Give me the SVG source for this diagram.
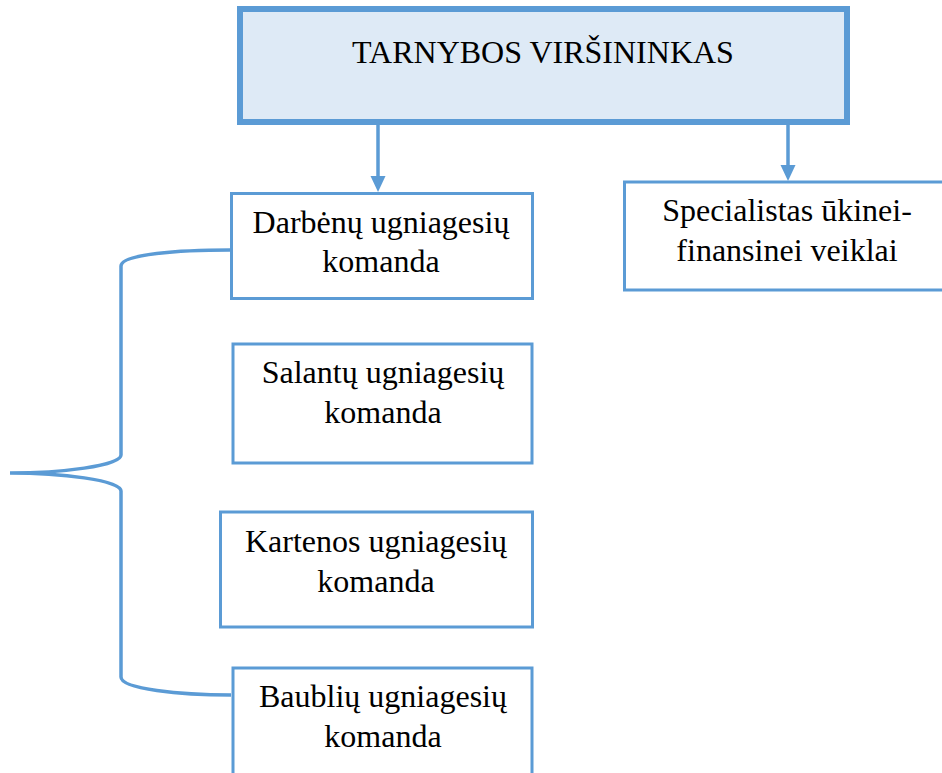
<svg xmlns="http://www.w3.org/2000/svg" width="942" height="773" viewBox="0 0 942 773">
<defs>
<style>
.box{fill:#ffffff;stroke:#5B9BD5;stroke-width:3}
.top{fill:#DEEAF6;stroke:#5B9BD5;stroke-width:6}
.t{font-family:"Liberation Serif","Times New Roman",serif;font-size:32px;fill:#000;text-anchor:middle}
.ln{fill:none;stroke:#5B9BD5;stroke-width:3.5}
.ah{fill:#5B9BD5}
</style>
</defs>
<rect width="942" height="773" fill="#ffffff"/>
<g id="connectors">
<line class="ln" x1="378" y1="124" x2="378" y2="178"/>
<path class="ah" d="M370.5,176 L385.5,176 L378,192 Z"/>
<line class="ln" x1="788" y1="124" x2="788" y2="167"/>
<path class="ah" d="M780.5,165 L795.5,165 L788,181 Z"/>
<path class="ln" d="M230,250 C180,250 121,254 121,266 L121,455 C121,466 60,473 10,473 C60,473 121,480 121,491 L121,677 C121,689 180,695 231,695"/>
</g>
<g id="n-top">
<rect class="top" x="240" y="9" width="607" height="113"/>
<text class="t" x="543" y="63">TARNYBOS VIRŠININKAS</text>
</g>
<g id="n-darbenu">
<rect class="box" x="231.5" y="193.5" width="301" height="105"/>
<text class="t" x="381" y="233">Darbėnų ugniagesių</text>
<text class="t" x="381" y="272">komanda</text>
</g>
<g id="n-salantu">
<rect class="box" x="233" y="344" width="299" height="119"/>
<text class="t" x="383" y="383">Salantų ugniagesių</text>
<text class="t" x="383" y="423">komanda</text>
</g>
<g id="n-kartenos">
<rect class="box" x="220.5" y="512" width="312" height="115"/>
<text class="t" x="376" y="552">Kartenos ugniagesių</text>
<text class="t" x="376" y="592">komanda</text>
</g>
<g id="n-baubliu">
<rect class="box" x="233" y="668" width="299" height="110"/>
<text class="t" x="383" y="707">Baublių ugniagesių</text>
<text class="t" x="383" y="747">komanda</text>
</g>
<g id="n-spec">
<rect class="box" x="624.5" y="182" width="330" height="108"/>
<text class="t" x="787" y="221">Specialistas ūkinei-</text>
<text class="t" x="787" y="261">finansinei veiklai</text>
</g>
</svg>
